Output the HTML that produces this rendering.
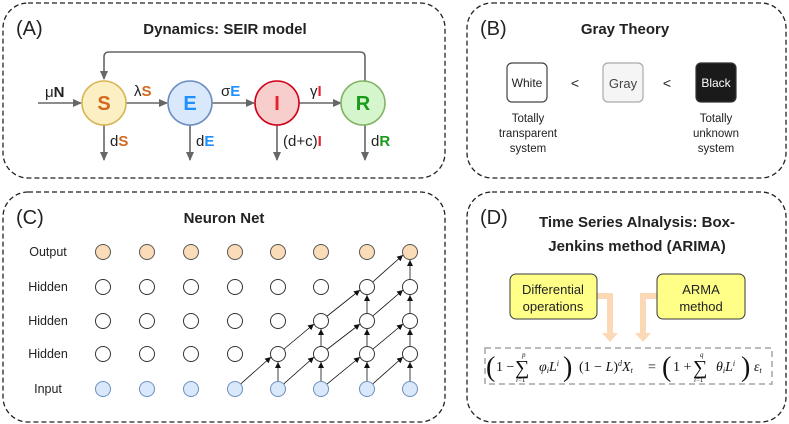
<!DOCTYPE html>
<html><head><meta charset="utf-8"><style>
body{margin:0;background:#fff}
svg{display:block;font-family:"Liberation Sans",sans-serif}
.t{font-weight:bold;font-size:15px;fill:#222;text-anchor:middle}
.p{font-size:20px;fill:#222}
.m{font-family:"Liberation Serif",serif;fill:#111}
</style></head><body>
<svg width="789" height="424" viewBox="0 0 789 424">
<defs>
<marker id="a" markerWidth="10" markerHeight="10" refX="8" refY="4" orient="auto" markerUnits="userSpaceOnUse"><path d="M0,0 L9,4 L0,8 z" fill="#666"/></marker>
<marker id="b" markerWidth="8" markerHeight="8" refX="6" refY="3" orient="auto" markerUnits="userSpaceOnUse"><path d="M0,0 L6,3 L0,6 z" fill="#111"/></marker>
</defs>
<g fill="none" stroke="#222" stroke-width="1.3" stroke-dasharray="5,3">
<rect x="3" y="3" width="442" height="175" rx="25"/>
<rect x="467" y="3" width="319" height="175" rx="25"/>
<rect x="3" y="192" width="442" height="230" rx="25"/>
<rect x="467" y="192" width="319" height="230" rx="25"/>
</g>
<!-- A -->
<text x="16" y="35" class="p">(A)</text>
<text x="225" y="34" class="t">Dynamics: SEIR model</text>
<g stroke="#666" stroke-width="1.6" fill="none">
<path d="M365,81 V57 Q365,52 360,52 H109 Q104,52 104,57 V79" marker-end="url(#a)"/>
<path d="M38,103 H81" marker-end="url(#a)"/>
<path d="M126,103 H167" marker-end="url(#a)"/>
<path d="M212,103 H254" marker-end="url(#a)"/>
<path d="M299,103 H341" marker-end="url(#a)"/>
<path d="M104,125 V160" marker-end="url(#a)"/>
<path d="M190,125 V160" marker-end="url(#a)"/>
<path d="M277,125 V160" marker-end="url(#a)"/>
<path d="M365,125 V160" marker-end="url(#a)"/>
</g>
<circle cx="104" cy="103" r="22" fill="#fdefc4" stroke="#d6b656" stroke-width="1.6"/>
<circle cx="190" cy="103" r="22" fill="#dae8fc" stroke="#6c8ebf" stroke-width="1.6"/>
<circle cx="277" cy="103" r="22" fill="#f8cecc" stroke="#d0021b" stroke-width="1.6"/>
<circle cx="363" cy="103" r="22" fill="#d5f5cc" stroke="#82b366" stroke-width="1.6"/>
<g font-weight="bold" font-size="20" text-anchor="middle">
<text x="104" y="110" fill="#d2691e">S</text>
<text x="190" y="110" fill="#1e90ff">E</text>
<text x="277" y="110" fill="#e8202a">I</text>
<text x="363" y="110" fill="#1a9a1a">R</text>
</g>
<g font-size="15" fill="#222">
<text x="45" y="97">μ<tspan font-weight="bold">N</tspan></text>
<text x="134" y="96">λ<tspan font-weight="bold" fill="#d2691e">S</tspan></text>
<text x="221" y="96">σ<tspan font-weight="bold" fill="#1e90ff">E</tspan></text>
<text x="310" y="96">γ<tspan font-weight="bold" fill="#e8202a">I</tspan></text>
<text x="110" y="146">d<tspan font-weight="bold" fill="#d2691e">S</tspan></text>
<text x="196" y="146">d<tspan font-weight="bold" fill="#1e90ff">E</tspan></text>
<text x="283" y="146">(d+c)<tspan font-weight="bold" fill="#e8202a">I</tspan></text>
<text x="371" y="146">d<tspan font-weight="bold" fill="#1a9a1a">R</tspan></text>
</g>
<!-- B -->
<text x="480" y="35" class="p">(B)</text>
<text x="625" y="34" class="t">Gray Theory</text>
<rect x="507" y="63" width="40" height="39" rx="5" fill="#fff" stroke="#444" stroke-width="1.2"/>
<rect x="603" y="63" width="40" height="39" rx="5" fill="#f5f5f5" stroke="#aaa" stroke-width="1.2"/>
<rect x="696" y="63" width="40" height="39" rx="5" fill="#1a1a1a" stroke="#333" stroke-width="1.2"/>
<g font-size="12" text-anchor="middle" fill="#222">
<text x="527" y="87">White</text>
<text x="623" y="88" fill="#444" font-size="13">Gray</text>
<text x="716" y="87" fill="#fff">Black</text>
<text x="575" y="88" font-size="14">&lt;</text>
<text x="667" y="88" font-size="14">&lt;</text>
<text x="528" y="122" font-size="11.5">Totally</text>
<text x="528" y="137" font-size="11.5">transparent</text>
<text x="528" y="152" font-size="11.5">system</text>
<text x="716" y="122" font-size="11.5">Totally</text>
<text x="716" y="137" font-size="11.5">unknown</text>
<text x="716" y="152" font-size="11.5">system</text>
</g>
<!-- C -->
<text x="16" y="224" class="p">(C)</text>
<text x="224" y="223" class="t">Neuron Net</text>
<g font-size="12.5" fill="#222" text-anchor="middle">
<text x="48" y="256">Output</text>
<text x="48" y="291">Hidden</text>
<text x="48" y="325">Hidden</text>
<text x="48" y="358">Hidden</text>
<text x="48" y="393">Input</text>
</g>
<g stroke="#111" stroke-width="0.8" fill="none" marker-end="url(#b)">
<line x1="235" y1="389" x2="271" y2="357"/>
<line x1="278" y1="389" x2="314" y2="357"/>
<line x1="321" y1="389" x2="360" y2="357"/>
<line x1="367" y1="389" x2="403" y2="357"/>
<line x1="278" y1="354" x2="314" y2="324"/>
<line x1="321" y1="354" x2="360" y2="324"/>
<line x1="367" y1="354" x2="403" y2="324"/>
<line x1="321" y1="321" x2="360" y2="290"/>
<line x1="367" y1="321" x2="403" y2="290"/>
<line x1="367" y1="287" x2="403" y2="255"/>
<line x1="278" y1="382" x2="278" y2="362"/>
<line x1="321" y1="382" x2="321" y2="362"/>
<line x1="367" y1="382" x2="367" y2="362"/>
<line x1="410" y1="382" x2="410" y2="362"/>
<line x1="321" y1="347" x2="321" y2="329"/>
<line x1="367" y1="347" x2="367" y2="329"/>
<line x1="410" y1="347" x2="410" y2="329"/>
<line x1="367" y1="314" x2="367" y2="295"/>
<line x1="410" y1="314" x2="410" y2="295"/>
<line x1="410" y1="280" x2="410" y2="260"/>
</g>
<g stroke-width="1">
<g fill="#fbdcb8" stroke="#555">
<circle cx="103" cy="252" r="7.5"/><circle cx="147" cy="252" r="7.5"/><circle cx="191" cy="252" r="7.5"/><circle cx="235" cy="252" r="7.5"/><circle cx="278" cy="252" r="7.5"/><circle cx="321" cy="252" r="7.5"/><circle cx="367" cy="252" r="7.5"/><circle cx="410" cy="252" r="7.5"/>
</g>
<g fill="#fff" stroke="#333">
<circle cx="103" cy="287" r="7.5"/><circle cx="147" cy="287" r="7.5"/><circle cx="191" cy="287" r="7.5"/><circle cx="235" cy="287" r="7.5"/><circle cx="278" cy="287" r="7.5"/><circle cx="321" cy="287" r="7.5"/><circle cx="367" cy="287" r="7.5"/><circle cx="410" cy="287" r="7.5"/>
<circle cx="103" cy="321" r="7.5"/><circle cx="147" cy="321" r="7.5"/><circle cx="191" cy="321" r="7.5"/><circle cx="235" cy="321" r="7.5"/><circle cx="278" cy="321" r="7.5"/><circle cx="321" cy="321" r="7.5"/><circle cx="367" cy="321" r="7.5"/><circle cx="410" cy="321" r="7.5"/>
<circle cx="103" cy="354" r="7.5"/><circle cx="147" cy="354" r="7.5"/><circle cx="191" cy="354" r="7.5"/><circle cx="235" cy="354" r="7.5"/><circle cx="278" cy="354" r="7.5"/><circle cx="321" cy="354" r="7.5"/><circle cx="367" cy="354" r="7.5"/><circle cx="410" cy="354" r="7.5"/>
</g>
<g fill="#dae8fc" stroke="#6c8ebf">
<circle cx="103" cy="389" r="7.5"/><circle cx="147" cy="389" r="7.5"/><circle cx="191" cy="389" r="7.5"/><circle cx="235" cy="389" r="7.5"/><circle cx="278" cy="389" r="7.5"/><circle cx="321" cy="389" r="7.5"/><circle cx="367" cy="389" r="7.5"/><circle cx="410" cy="389" r="7.5"/>
</g>
</g>
<!-- D -->
<text x="480" y="224" class="p">(D)</text>
<text x="637" y="227" class="t">Time Series Alnalysis: Box-</text>
<text x="637" y="251" class="t">Jenkins method (ARIMA)</text>
<g fill="none" stroke="#fcd9b6" stroke-width="6">
<path d="M597,296 H610 V333"/>
<path d="M657,296 H643 V333"/>
</g>
<path d="M602,333 H618 L610,342 z M635,333 H651 L643,342 z" fill="#fcd9b6"/>
<rect x="510" y="274" width="87" height="45" rx="6" fill="#ffff88" stroke="#36393d" stroke-width="1"/>
<rect x="657" y="274" width="88" height="45" rx="6" fill="#ffff88" stroke="#36393d" stroke-width="1"/>
<g font-size="13" fill="#222" text-anchor="middle">
<text x="553" y="294">Differential</text>
<text x="553" y="311">operations</text>
<text x="701" y="294">ARMA</text>
<text x="701" y="311">method</text>
</g>
<rect x="485" y="348" width="287" height="36" fill="none" stroke="#bbb" stroke-width="2" stroke-dasharray="6,4"/>
<g class="m" font-size="14">
<text x="486" y="376" font-size="28">(</text>
<text x="496" y="371">1 −</text>
<text x="515" y="374" font-size="20">∑</text>
<text x="522" y="357" font-size="7" font-style="italic">p</text>
<text x="516" y="382" font-size="7"><tspan font-style="italic">i</tspan>=1</text>
<text x="539" y="371" font-style="italic">φ<tspan font-size="8" dy="2">i</tspan><tspan dy="-2">L</tspan><tspan font-size="8" dy="-5">i</tspan></text>
<text x="563" y="376" font-size="28">)</text>
<text x="579" y="371">(1 − <tspan font-style="italic">L</tspan>)<tspan font-size="8" dy="-5" font-style="italic">d</tspan><tspan dy="5" font-style="italic">X</tspan><tspan font-size="8" dy="2" font-style="italic">t</tspan></text>
<text x="648" y="371">=</text>
<text x="662" y="376" font-size="28">(</text>
<text x="673" y="371">1 +</text>
<text x="693" y="374" font-size="20">∑</text>
<text x="700" y="357" font-size="7" font-style="italic">q</text>
<text x="694" y="382" font-size="7"><tspan font-style="italic">i</tspan>=1</text>
<text x="716" y="371" font-style="italic">θ<tspan font-size="8" dy="2">i</tspan><tspan dy="-2">L</tspan><tspan font-size="8" dy="-5">i</tspan></text>
<text x="741" y="376" font-size="28">)</text>
<text x="754" y="371" font-style="italic">ε<tspan font-size="8" dy="2">t</tspan></text>
</g>
</svg>
</body></html>
